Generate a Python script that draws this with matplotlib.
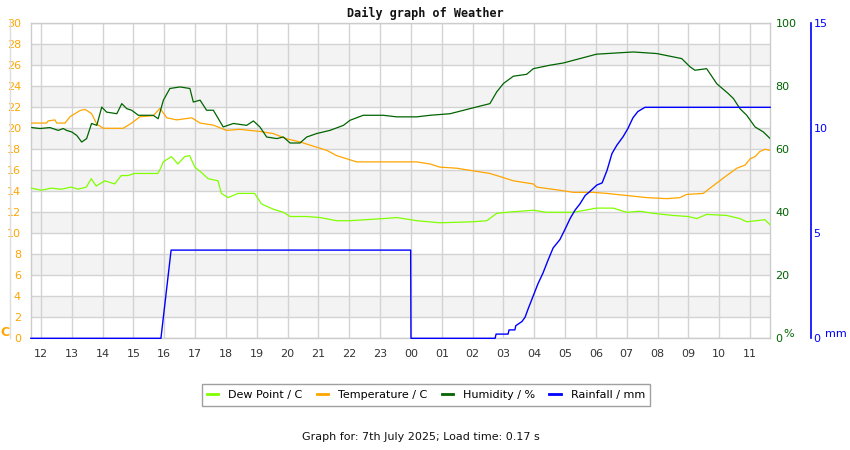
import matplotlib
matplotlib.use("Agg")
import matplotlib.pyplot as plt
from matplotlib.lines import Line2D

# ---- data (hours after 12:00 on 7th July 2025) ----
hour_labels = ["12", "13", "14", "15", "16", "17", "18", "19", "20", "21", "22", "23",
               "00", "01", "02", "03", "04", "05", "06", "07", "08", "09", "10", "11"]

temp_t = [-0.30, 0.18, 0.23, 0.45, 0.51, 0.78, 0.94, 1.27, 1.43, 1.64, 1.81, 2.02, 2.35, 2.67,
          2.94, 3.21, 3.64, 3.86, 4.08, 4.40, 4.89, 5.16, 5.59, 6.02, 6.45, 7.10, 7.53, 7.97,
          8.40, 8.94, 9.27, 9.59, 10.02, 10.24, 11.10, 12.19, 12.62, 12.94, 13.48, 13.91, 14.56,
          14.89, 15.32, 15.97, 16.08, 16.83, 17.27, 17.91, 18.35, 19.00, 19.65, 20.30, 20.73,
          20.94, 21.48, 21.70, 21.97, 22.24, 22.57, 22.84, 23.00, 23.16, 23.32, 23.49, 23.65]
temp_v = [20.5, 20.5, 20.7, 20.8, 20.5, 20.5, 21.1, 21.7, 21.8, 21.4, 20.4, 20.0, 20.0, 20.0,
          20.5, 21.1, 21.2, 21.9, 21.0, 20.8, 21.0, 20.5, 20.3, 19.8, 19.9, 19.7, 19.5, 19.0,
          18.7, 18.2, 17.9, 17.4, 17.0, 16.8, 16.8, 16.8, 16.6, 16.3, 16.2, 16.0, 15.7,
          15.4, 15.0, 14.7, 14.4, 14.1, 13.9, 13.9, 13.8, 13.6, 13.4, 13.3, 13.4,
          13.7, 13.8, 14.3, 14.9, 15.5, 16.2, 16.5, 17.1, 17.3, 17.8, 18.0, 17.9]

dew_t = [-0.31, 0.01, 0.33, 0.66, 0.98, 1.20, 1.47, 1.63, 1.79, 2.07, 2.39, 2.60, 2.82, 3.04,
         3.79, 3.90, 3.96, 4.23, 4.44, 4.66, 4.82, 4.99, 5.20, 5.42, 5.74, 5.85, 6.07, 6.39,
         6.93, 7.15, 7.53, 7.86, 8.08, 8.62, 9.05, 9.59, 10.02, 11.10, 11.54, 12.19, 12.94,
         14.02, 14.46, 14.78, 15.11, 15.97, 16.40, 17.27, 18.02, 18.56, 19.00, 19.43, 19.86,
         20.50, 20.99, 21.27, 21.59, 22.24, 22.67, 22.89, 23.21, 23.48, 23.65]
dew_v = [14.3, 14.1, 14.3, 14.2, 14.4, 14.2, 14.4, 15.2, 14.5, 15.0, 14.7, 15.5, 15.5, 15.7,
         15.7, 16.3, 16.8, 17.3, 16.6, 17.3, 17.4, 16.3, 15.8, 15.2, 15.0, 13.8, 13.4, 13.8,
         13.8, 12.8, 12.3, 12.0, 11.6, 11.6, 11.5, 11.2, 11.2, 11.4, 11.5, 11.2, 11.0,
         11.1, 11.2, 11.9, 12.0, 12.2, 12.0, 12.0, 12.4, 12.4, 12.0, 12.1, 11.9,
         11.7, 11.6, 11.4, 11.8, 11.7, 11.4, 11.1, 11.2, 11.3, 10.8]

hum_t = [-0.30, -0.03, 0.29, 0.56, 0.72, 0.83, 1.00, 1.16, 1.32, 1.48, 1.64, 1.81, 1.97, 2.13,
         2.46, 2.62, 2.78, 2.94, 3.16, 3.64, 3.80, 3.97, 4.18, 4.51, 4.83, 4.94, 5.16, 5.37,
         5.59, 5.91, 6.24, 6.67, 6.89, 7.10, 7.32, 7.65, 7.86, 8.08, 8.40, 8.62, 8.94, 9.37,
         9.81, 10.02, 10.45, 11.10, 11.54, 12.19, 12.62, 13.27, 13.91, 14.56, 14.78, 15.00,
         15.32, 15.75, 15.97, 16.51, 16.94, 17.48, 18.02, 19.21, 19.97, 20.78, 21.05, 21.21,
         21.59, 21.92, 22.29, 22.46, 22.67, 22.89, 23.16, 23.43, 23.65]
hum_v = [66.9, 66.6, 66.9, 66.0, 66.6, 66.0, 65.5, 64.4, 62.3, 63.4, 68.2, 67.6, 73.4, 71.8,
         71.3, 74.5, 72.9, 72.4, 70.8, 70.8, 69.7, 75.6, 79.3, 79.8, 79.3, 75.0, 75.6, 72.4,
         72.4, 67.1, 68.2, 67.6, 69.0, 67.1, 63.9, 63.4, 63.9, 62.0, 62.0, 63.9, 65.0, 66.0,
         67.6, 69.2, 70.8, 70.8, 70.3, 70.3, 70.8, 71.3, 72.9, 74.5, 78.2, 80.9,
         83.2, 83.8, 85.6, 86.7, 87.4, 88.8, 90.2, 90.9, 90.4, 88.8, 86.2, 85.1,
         85.6, 80.8, 77.7, 76.1, 72.9, 70.8, 67.1, 65.5, 63.4]

rain_t = [-0.33, 3.89, 4.22, 11.99, 12.0, 14.73, 14.76, 15.15, 15.18, 15.37, 15.40, 15.60,
          15.70, 15.80, 15.96, 16.12, 16.28, 16.44, 16.61, 16.83, 17.00, 17.16, 17.32, 17.48,
          17.65, 17.81, 18.03, 18.20, 18.36, 18.52, 18.68, 18.88, 19.04, 19.20, 19.36, 19.59, 23.65]
rain_v = [0, 0, 4.2, 4.2, 0, 0, 0.2, 0.2, 0.4, 0.4, 0.6, 0.8,
          1.0, 1.4, 2.0, 2.6, 3.1, 3.7, 4.3, 4.7, 5.2, 5.7, 6.1, 6.4,
          6.8, 7.0, 7.3, 7.4, 8.0, 8.8, 9.2, 9.6, 10.0, 10.5, 10.8, 11.0, 11.0]

temp_ticks = list(range(0, 31, 2))
hum_ticks = [0, 20, 40, 60, 80, 100]
rain_ticks = [0, 5, 10, 15]

# ---- style ----
C_DEW = "#80FF00"
C_TEMP = "#FFA500"
C_HUM = "#006400"
C_RAIN = "#0000FF"
GRID = "#d3d3d3"
BAND = "#f3f3f3"

plt.rcParams["font.family"] = ["DejaVu Sans"]

fig = plt.figure(figsize=(8.5, 4.5), dpi=100)
W, H = 850.0, 450.0
L, R, T, B = 30.7, 770.0, 23.3, 338.3
ax = fig.add_axes([L / W, 1 - B / H, (R - L) / W, (B - T) / H])
xmin, xmax = -0.334, 23.645
ax.set_xlim(xmin, xmax)
ax.set_ylim(0, 30)

# background bands
for lo in range(2, 30, 4):
    ax.axhspan(lo, lo + 2, color=BAND, zorder=0, lw=0)
for y in temp_ticks:
    ax.axhline(y, color=GRID, lw=1.0, zorder=0.5)
for i in range(len(hour_labels)):
    ax.axvline(i, color=GRID, lw=1.0, zorder=0.5)

for s in ax.spines.values():
    s.set_color("#cccccc")
    s.set_linewidth(1.0)

ax.plot(dew_t, dew_v, color=C_DEW, lw=0.9, zorder=3)
ax.plot(temp_t, temp_v, color=C_TEMP, lw=0.9, zorder=3)

ax.set_xticks(range(len(hour_labels)))
ax.set_xticklabels(hour_labels)
ax.set_yticks(temp_ticks)
ax.tick_params(axis="x", length=0, pad=8, labelsize=8, labelcolor="#333333")
ax.tick_params(axis="y", length=0, pad=7, labelsize=8, labelcolor=C_TEMP)

# humidity axis
ax2 = ax.twinx()
ax2.set_ylim(0, 100)
ax2.set_xlim(xmin, xmax)
ax2.plot(hum_t, hum_v, color=C_HUM, lw=0.9, zorder=4)
ax2.set_yticks(hum_ticks)
ax2.tick_params(axis="y", length=0, pad=4, labelsize=8, labelcolor=C_HUM)
for s in ax2.spines.values():
    s.set_visible(False)

# rain axis
ax3 = ax.twinx()
ax3.set_ylim(0, 15)
ax3.set_xlim(xmin, xmax)
ax3.spines["right"].set_position(("axes", (810.7 - L) / (R - L)))
for k in ["left", "top", "bottom"]:
    ax3.spines[k].set_visible(False)
ax3.spines["right"].set_color(C_RAIN)
ax3.spines["right"].set_linewidth(1.2)
ax3.plot(rain_t, rain_v, color=C_RAIN, lw=1.0, zorder=5, clip_on=False)
ax3.set_yticks(rain_ticks)
ax3.tick_params(axis="y", length=0, pad=2, labelsize=8, labelcolor=C_RAIN)

# left faint axis line
fig.add_artist(Line2D([9.5 / W, 9.5 / W], [1 - 338 / H, 1 - 20 / H], color="#dddddd", lw=1.0))

# unit labels
fig.text(5 / W, 1 - 333 / H, "C", color=C_TEMP, fontsize=9, fontweight="bold", ha="center", va="center")
fig.text(789 / W, 1 - 334 / H, "%", color=C_HUM, fontsize=8, ha="center", va="center")
fig.text(836 / W, 1 - 334 / H, "mm", color=C_RAIN, fontsize=8, ha="center", va="center")

# title
fig.text(425 / W, 1 - 13 / H, "Daily graph of Weather", fontsize=8.5, fontweight="bold",
         family="DejaVu Sans Mono", ha="center", va="center", color="#111111")

# legend
handles = [Line2D([], [], color=C_DEW, lw=2),
           Line2D([], [], color=C_TEMP, lw=2),
           Line2D([], [], color=C_HUM, lw=2),
           Line2D([], [], color=C_RAIN, lw=2)]
labels = ["Dew Point / C", "Temperature / C", "Humidity / %", "Rainfall / mm"]
leg = fig.legend(handles, labels, loc="center", bbox_to_anchor=(426 / W, 1 - 395 / H),
                 ncol=4, fontsize=8, frameon=True, fancybox=False, handlelength=1.0,
                 handletextpad=0.9, columnspacing=1.3, borderpad=0.5)
leg.get_frame().set_edgecolor("#888888")
leg.get_frame().set_linewidth(1.0)

fig.text(421 / W, 1 - 437 / H, "Graph for: 7th July 2025; Load time: 0.17 s", fontsize=8,
         ha="center", va="center", color="#111111")

fig.savefig("out.png", dpi=100)
